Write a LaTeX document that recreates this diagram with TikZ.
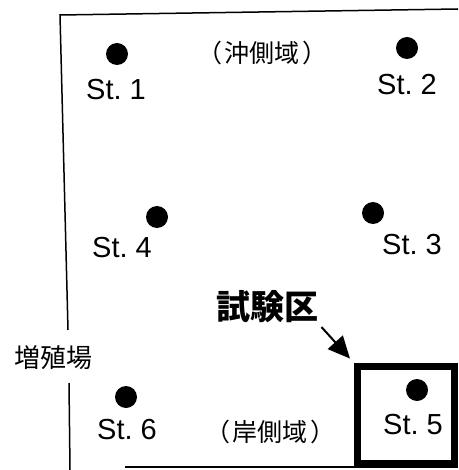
\documentclass[tikz,border=0pt]{standalone}
\usepackage{fontspec}
\setmainfont{Liberation Sans}
\newfontfamily\jp{Noto Sans CJK JP}
\usetikzlibrary{arrows.meta}
\begin{document}
\begin{tikzpicture}[x=1pt,y=-1pt,
        station/.style={circle,fill=black,inner sep=0pt,minimum size=22pt},
        stlabel/.style={font=\fontsize{29}{29}\selectfont,inner sep=0pt},
        region/.style={font=\jp\fontsize{25}{25}\selectfont,inner sep=0pt}]
        \useasboundingbox (0,0) rectangle (458,470);
        %% Frame
        \draw[line width=1.5pt] (68,330) -- (60,15) -- (458,9);
        \draw[line width=1.5pt] (69,383) -- (70,470);
        \draw[line width=1.2pt] (125,467) -- (458,467);
        \node[font=\jp\fontsize{26}{26}\selectfont,inner sep=0pt] (farm) at (53,358) {増殖場};
        %% Stations
        \node[station] (s1) at (117,54) {};
        \node[stlabel] (l1) at (116,90) {St.\ 1};
        \node[station] (s2) at (407,48) {};
        \node[stlabel] (l2) at (407,85) {St.\ 2};
        \node[station] (s3) at (373,213) {};
        \node[stlabel] (l3) at (412,245) {St.\ 3};
        \node[station] (s4) at (157,217) {};
        \node[stlabel] (l4) at (122,248) {St.\ 4};
        \node[station] (s6) at (126,397) {};
        \node[stlabel] (l6) at (127,430) {St.\ 6};
        %% Test area
        \node[draw,line width=7pt,minimum width=97pt,minimum height=97pt] (test) at (406,415) {};
        \node[station] (s5) at (417,390) {};
        \node[stlabel] (l5) at (413,425) {St.\ 5};
        \node[font=\jp\bfseries\fontsize{34}{34}\selectfont,inner sep=0pt] (testname) at (267,307) {試験区};
        \draw[line width=2pt,-{Triangle[length=22pt,width=20pt]},shorten <=5pt,shorten >=6pt]
            (testname.south east) -- (test.north west);
        %% Labels
        \node[region] (offshore) at (262,53) {（\kern0.1em 沖側域\kern0.1em ）};
        \node[region] (shore) at (270,432) {（\kern0.1em 岸側域\kern0.1em ）};
    \end{tikzpicture}
\end{document}
